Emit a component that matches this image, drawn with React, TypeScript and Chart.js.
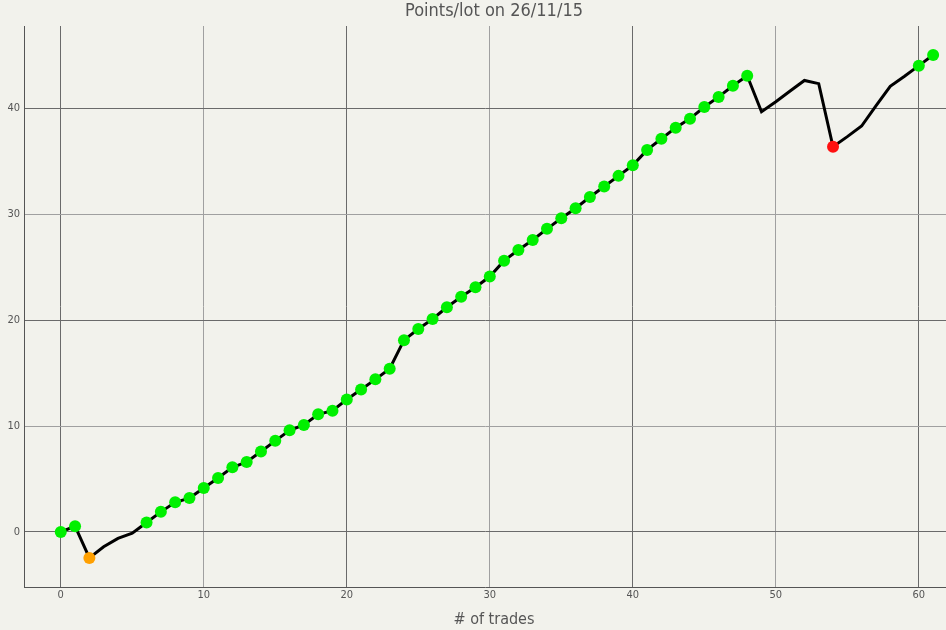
import React, { useEffect, useRef } from "react";
import { Chart, registerables } from "chart.js";

Chart.register(...registerables);

const trades: number[] = Array.from({ length: 62 }, (_, i) => i);
const points: number[] = [
  0, 0.55, -2.45, -1.4, -0.6, -0.12, 0.9, 1.9, 2.8, 3.2,
  4.15, 5.1, 6.1, 6.6, 7.6, 8.6, 9.6, 10.1, 11.1, 11.45,
  12.5, 13.45, 14.4, 15.4, 18.1, 19.15, 20.1, 21.2, 22.2, 23.1,
  24.1, 25.6, 26.6, 27.55, 28.6, 29.6, 30.55, 31.6, 32.6, 33.6,
  34.6, 36.05, 37.1, 38.15, 39.0, 40.1, 41.05, 42.1, 43.05, 39.65,
  40.6, 41.6, 42.6, 42.3, 36.35, 37.3, 38.3, 40.2, 42.05, 43.0,
  44.0, 45.0,
];
// marker kind per trade: g = green, o = orange, r = red, n = none
const markers: string[] = [
  "g", "g", "o", "n", "n", "n", "g", "g", "g", "g",
  "g", "g", "g", "g", "g", "g", "g", "g", "g", "g",
  "g", "g", "g", "g", "g", "g", "g", "g", "g", "g",
  "g", "g", "g", "g", "g", "g", "g", "g", "g", "g",
  "g", "g", "g", "g", "g", "g", "g", "g", "g", "n",
  "n", "n", "n", "n", "r", "n", "n", "n", "n", "n",
  "g", "g",
];
const xTicks: number[] = [0, 10, 20, 30, 40, 50, 60];
const yTicks: number[] = [0, 10, 20, 30, 40];
const titleText = "Points/lot on 26/11/15";
const xTitleText = "# of trades";

const markerColor: Record<string, string> = {
  g: "#00f000",
  o: "#ffa000",
  r: "#ff1010",
  n: "rgba(0,0,0,0)",
};

const FONT = '"DejaVu Sans Condensed", "DejaVu Sans", sans-serif';
const TITLE_CX = 494;

export default function App() {
  const ref = useRef<HTMLCanvasElement | null>(null);

  useEffect(() => {
    document.body.style.margin = "0";
    document.body.style.background = "#f2f2ec";
    const canvas = ref.current;
    if (!canvas) return;

    const bgPlugin = {
      id: "bg",
      beforeDraw(chart: any) {
        const ctx = chart.ctx;
        ctx.save();
        ctx.fillStyle = "#f2f2ec";
        ctx.fillRect(0, 0, chart.width, chart.height);
        ctx.restore();
      },
    };

    // titles centred over the original (partly off-canvas) plot area
    const titlePlugin = {
      id: "centeredTitles",
      afterDraw(chart: any) {
        const ctx = chart.ctx;
        ctx.save();
        ctx.fillStyle = "#555555";
        ctx.textAlign = "center";
        ctx.textBaseline = "middle";
        ctx.font = `18px ${FONT}`;
        ctx.fillText(titleText, TITLE_CX, 11.5);
        ctx.font = `16px ${FONT}`;
        ctx.fillText(xTitleText, TITLE_CX, 620);
        ctx.restore();
      },
    };

    const gridColor = (v: number) =>
      v % 20 === 0 ? "#6a6a6a" : "#a0a0a0";

    const chart = new Chart(canvas, {
      type: "line",
      data: {
        datasets: [
          {
            data: trades.map((t, i) => ({ x: t, y: points[i] })),
            borderColor: "#000000",
            borderWidth: 3,
            tension: 0,
            pointRadius: markers.map((m) => (m === "n" ? 0 : 6)),
            pointHoverRadius: markers.map((m) => (m === "n" ? 0 : 6)),
            pointBackgroundColor: markers.map((m) => markerColor[m]),
            pointBorderWidth: 0,
            pointBorderColor: "rgba(0,0,0,0)",
          },
        ],
      },
      options: {
        animation: false,
        responsive: false,
        maintainAspectRatio: false,
        layout: {
          autoPadding: false,
          padding: { top: 26, right: 0, left: 0, bottom: 0 },
        },
        plugins: {
          legend: { display: false },
          tooltip: { enabled: false },
          title: { display: false },
        },
        scales: {
          x: {
            type: "linear",
            min: -2.57,
            max: 61.9,
            afterBuildTicks: (scale: any) => {
              scale.ticks = xTicks.map((v) => ({ value: v }));
            },
            afterFit: (scale: any) => {
              scale.height = 43;
              scale.paddingRight = 0;
              scale.paddingLeft = 0;
            },
            ticks: {
              color: "#555555",
              font: { family: FONT, size: 11 },
              padding: 2,
              includeBounds: false,
            },
            grid: {
              drawTicks: false,
              color: (c: any) => gridColor(c.tick ? c.tick.value : 0),
              lineWidth: 1,
            },
            border: { display: true, color: "#555555", width: 1 },
          },
          y: {
            type: "linear",
            min: -5.19,
            max: 47.74,
            afterBuildTicks: (scale: any) => {
              scale.ticks = yTicks.map((v) => ({ value: v }));
            },
            afterFit: (scale: any) => {
              scale.width = 24;
              scale.paddingTop = 0;
              scale.paddingBottom = 0;
            },
            ticks: {
              color: "#555555",
              font: { family: FONT, size: 11 },
              padding: 4,
              includeBounds: false,
            },
            grid: {
              drawTicks: false,
              color: (c: any) => gridColor(c.tick ? c.tick.value : 0),
              lineWidth: 1,
            },
            border: { display: true, color: "#555555", width: 1 },
          },
        },
      },
      plugins: [bgPlugin, titlePlugin],
    } as any);

    return () => chart.destroy();
  }, []);

  return (
    <div style={{ width: 946, height: 630 }}>
      <canvas ref={ref} width={946} height={630} style={{ display: "block" }} />
    </div>
  );
}
